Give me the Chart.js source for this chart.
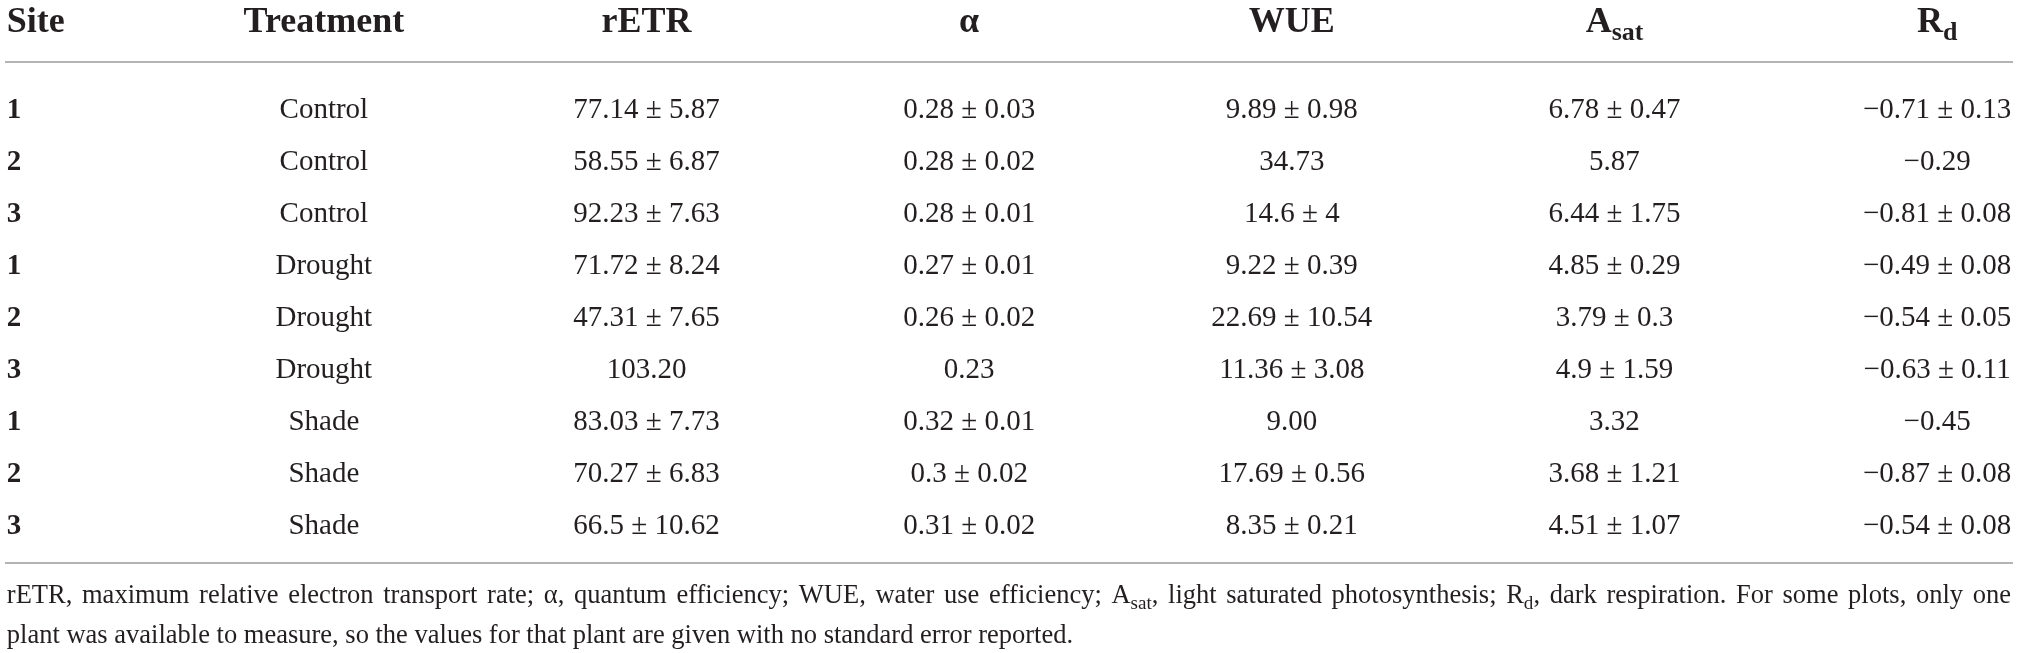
<!DOCTYPE html>
<html>
<head>
<meta charset="utf-8">
<script src="https://cdn.jsdelivr.net/npm/chart.js@4.4.1/dist/chart.umd.min.js"></script>
<style>
html,body{margin:0;padding:0;background:#fff;}
#wrap{width:2019px;height:653px;position:relative;}
</style>
</head>
<body>
<div id="wrap"><canvas id="c" width="2019" height="653"></canvas></div>
<script>
// ---- table data ----
const headers = [
  [{t:'Site'}],
  [{t:'Treatment'}],
  [{t:'rETR'}],
  [{t:'α'}],
  [{t:'WUE'}],
  [{t:'A'},{t:'sat',sub:true}],
  [{t:'R'},{t:'d',sub:true}]
];
const sites = ['1','2','3','1','2','3','1','2','3'];
const treatments = ['Control','Control','Control','Drought','Drought','Drought','Shade','Shade','Shade'];
const rETR = ['77.14 ± 5.87','58.55 ± 6.87','92.23 ± 7.63','71.72 ± 8.24','47.31 ± 7.65','103.20','83.03 ± 7.73','70.27 ± 6.83','66.5 ± 10.62'];
const alpha = ['0.28 ± 0.03','0.28 ± 0.02','0.28 ± 0.01','0.27 ± 0.01','0.26 ± 0.02','0.23','0.32 ± 0.01','0.3 ± 0.02','0.31 ± 0.02'];
const WUE = ['9.89 ± 0.98','34.73','14.6 ± 4','9.22 ± 0.39','22.69 ± 10.54','11.36 ± 3.08','9.00','17.69 ± 0.56','8.35 ± 0.21'];
const Asat = ['6.78 ± 0.47','5.87','6.44 ± 1.75','4.85 ± 0.29','3.79 ± 0.3','4.9 ± 1.59','3.32','3.68 ± 1.21','4.51 ± 1.07'];
const Rd = ['−0.71 ± 0.13','−0.29','−0.81 ± 0.08','−0.49 ± 0.08','−0.54 ± 0.05','−0.63 ± 0.11','−0.45','−0.87 ± 0.08','−0.54 ± 0.08'];
const footnote = [
  [{t:'rETR, maximum relative electron transport rate; α, quantum efficiency; WUE, water use efficiency; A'},{t:'sat',sub:true},{t:', light saturated photosynthesis; R'},{t:'d',sub:true},{t:', dark respiration. For some plots, only one'}],
  [{t:'plant was available to measure, so the values for that plant are given with no standard error reported.'}]
];

// ---- layout (scale units: columns / rows) ----
const columns = [sites, treatments, rETR, alpha, WUE, Asat, Rd];
const colX = [0.0175, 1, 2, 3, 4, 5, 6];
const colAlign = ['left','center','center','center','center','center','center'];
const headerY = -1.665;
const ruleY = [-0.846, 8.788];
const ruleX = [0.0118, 6.235];
const footY = [9.404, 10.173];
const footX = 0.0175;
const footJustify = [true, false];

const TEXT = '#231f20';
const RULE = '#9b9b9b';
const FAMILY = '"Liberation Serif", "Times New Roman", serif';

function fontFor(s, size, weight){
  return weight + ' ' + (s.sub ? size*0.72 : size) + 'px ' + FAMILY;
}
function segWidth(ctx, segs, size, weight){
  let w = 0;
  segs.forEach(s => { ctx.font = fontFor(s,size,weight); w += ctx.measureText(s.t).width; });
  return w;
}
function drawSegs(ctx, segs, x, y, align, size, weight, justifyTo){
  const w = segWidth(ctx, segs, size, weight);
  let cx = align === 'center' ? x - w/2 : (align === 'right' ? x - w : x);
  let extra = 0;
  if (justifyTo) {
    let n = 0;
    segs.forEach(s => { n += (s.t.match(/ /g) || []).length; });
    if (n) extra = (justifyTo - x - w) / n;
  }
  ctx.textAlign = 'left';
  ctx.textBaseline = 'alphabetic';
  segs.forEach(s => {
    ctx.font = fontFor(s,size,weight);
    const dy = s.sub ? size*0.22 : 0;
    if (!extra) {
      ctx.fillText(s.t, cx, y + dy);
      cx += ctx.measureText(s.t).width;
    } else {
      const parts = s.t.split(' ');
      const sp = ctx.measureText(' ').width + extra;
      parts.forEach((p,k) => {
        if (p) { ctx.fillText(p, cx, y + dy); cx += ctx.measureText(p).width; }
        if (k < parts.length-1) cx += sp;
      });
    }
  });
}

const datasets = [];
// header cells
datasets.push({
  type:'scatter', label:'header',
  data: headers.map((h,j)=>({x:colX[j], y:headerY})),
  cells: headers, align: colAlign, size: 36, weight: 'bold', baselineShift: 0.35,
  pointRadius:0, pointHoverRadius:0
});
// body cells per column
columns.forEach((col,j)=>{
  datasets.push({
    type:'scatter', label:'col'+j,
    data: col.map((v,i)=>({x:colX[j], y:i})),
    cells: col.map(v=>[{t:v}]), align: col.map(()=>colAlign[j]),
    size: 29, weight: j===0 ? 'bold' : 'normal', baselineShift: 0.42,
    pointRadius:0, pointHoverRadius:0
  });
});
// rules
ruleY.forEach((ry,k)=>{
  datasets.push({
    type:'line', label:'rule'+k,
    data: ruleX.map(rx=>({x:rx, y:ry})),
    borderColor: RULE, borderWidth: 1.6, pointRadius:0, fill:false, tension:0
  });
});
// footnote
datasets.push({
  type:'scatter', label:'foot',
  data: footY.map(fy=>({x:footX, y:fy})),
  cells: footnote, align: footnote.map(()=>'left'), size: 26.5, weight:'normal', baselineShift: 0.3,
  justify: footJustify,
  pointRadius:0, pointHoverRadius:0
});

const tablePlugin = {
  id:'tableText',
  afterDatasetsDraw(chart){
    const ctx = chart.ctx;
    const xs = chart.scales.x;
    ctx.save();
    ctx.fillStyle = TEXT;
    chart.data.datasets.forEach((ds,di)=>{
      if(!ds.cells) return;
      const meta = chart.getDatasetMeta(di);
      meta.data.forEach((el,i)=>{
        const al = Array.isArray(ds.align) ? ds.align[i] : ds.align;
        const jt = ds.justify && ds.justify[i] ? xs.getPixelForValue(ruleX[1]) - 2 : 0;
        drawSegs(ctx, ds.cells[i], el.x, el.y + ds.size*ds.baselineShift, al, ds.size, ds.weight, jt);
      });
    });
    ctx.restore();
  }
};

Chart.defaults.font.family = FAMILY;
new Chart(document.getElementById('c'), {
  type:'scatter',
  data:{datasets},
  options:{
    responsive:false, animation:false, devicePixelRatio:1,
    layout:{padding:0},
    plugins:{legend:{display:false}, tooltip:{enabled:false}},
    events:[],
    scales:{
      x:{type:'linear', min:-0.0037, max:6.2537, display:false},
      y:{type:'linear', reverse:true, min:-2.0385, max:10.5192, display:false}
    }
  },
  plugins:[tablePlugin]
});
</script>
</body>
</html>
